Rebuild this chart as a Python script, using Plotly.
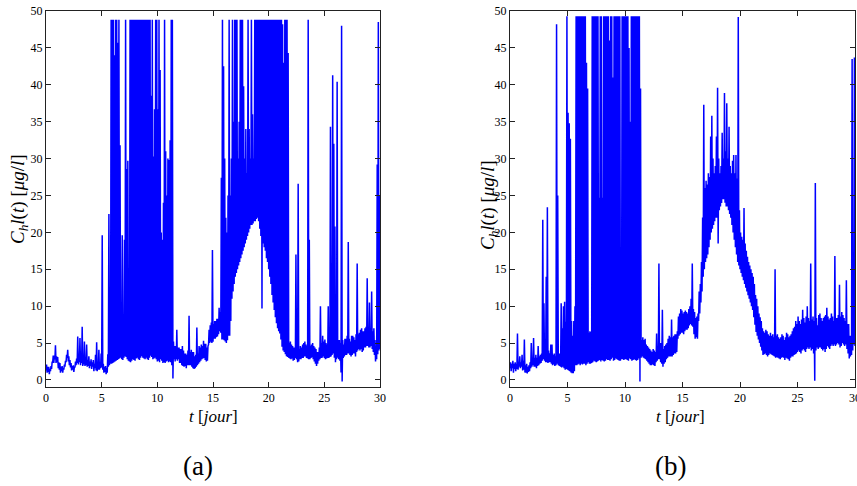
import numpy as np
import plotly.graph_objects as go

# Each series is given as a min/max envelope per 0.1-day bin (rows = days 0..29, then t=30)
bin_days = 0.1

# Panel (a): lower and upper values within each bin
chl_a_low = [
    1.3, 1.0, 1.1, 0.8, 1.2, 1.5, 2.4, 2.3, 2.8, 2.3,
    2.4, 1.6, 1.4, 1.0, 1.2, 1.0, 1.4, 1.8, 2.4, 3.0,
    2.5, 2.0, 1.7, 1.3, 1.4, 1.1, 1.7, 2.0, 2.3, 2.1,
    2.4, 2.0, 2.3, 1.9, 2.1, 1.9, 2.0, 1.8, 1.9, 1.6,
    1.9, 1.5, 1.8, 1.2, 1.6, 1.3, 1.2, 1.4, 1.4, 1.6,
    1.7, 1.4, 1.0, 1.1, 0.8, 1.0, 1.8, 2.0, 2.2, 2.2,
    2.3, 2.4, 2.5, 2.6, 2.7, 2.8, 2.9, 3.0, 2.8, 2.7,
    3.0, 3.2, 3.1, 2.8, 2.6, 2.5, 2.4, 2.6, 2.8, 2.7,
    2.6, 2.9, 3.0, 2.8, 2.7, 3.0, 3.2, 3.0, 2.9, 2.8,
    3.0, 2.8, 2.7, 3.0, 3.3, 3.1, 2.8, 2.9, 3.0, 2.8,
    2.5, 2.6, 2.4, 2.8, 2.6, 2.3, 2.4, 2.3, 2.5, 2.6,
    2.4, 2.5, 2.4, 2.0, 0.2, 2.8, 2.5, 2.8, 2.6, 2.8,
    2.3, 2.3, 2.0, 1.9, 1.8, 1.9, 1.6, 2.0, 2.0, 2.0,
    2.0, 1.8, 1.6, 1.5, 1.6, 1.8, 2.0, 2.2, 2.4, 2.6,
    2.8, 2.9, 3.0, 2.7, 2.5, 2.6, 4.8, 5.0, 5.2, 5.0,
    5.2, 5.6, 5.6, 5.8, 5.9, 6.2, 6.6, 6.4, 5.5, 5.5,
    5.4, 5.2, 5.0, 5.4, 6.0, 6.0, 8.0, 11.0, 12.0, 13.0,
    14.0, 14.5, 15.0, 15.5, 16.0, 16.5, 17.0, 17.5, 18.0, 18.5,
    19.0, 19.5, 20.0, 20.5, 21.0, 21.0, 21.2, 21.5, 21.5, 21.8,
    22.0, 21.5, 20.5, 19.5, 9.7, 18.5, 18.0, 17.5, 16.5, 16.0,
    15.0, 14.0, 13.0, 11.5, 10.5, 9.5, 8.5, 7.7, 7.0, 6.6,
    6.3, 5.5, 4.5, 4.0, 3.8, 3.5, 3.2, 3.1, 3.0, 2.9,
    2.8, 2.9, 2.6, 2.7, 3.0, 2.8, 2.4, 2.5, 2.8, 2.8,
    3.0, 3.0, 3.2, 3.2, 3.0, 2.9, 2.8, 2.8, 3.0, 3.1,
    2.8, 2.5, 2.2, 1.9, 2.2, 2.6, 2.8, 3.0, 3.0, 3.2,
    3.0, 2.8, 2.9, 3.0, 3.0, 3.1, 3.2, 3.4, 3.6, 3.0,
    2.4, 2.8, 3.0, 2.8, 2.6, 1.0, -0.2, 3.0, 3.2, 3.4,
    3.4, 3.6, 3.6, 3.4, 3.2, 3.4, 3.6, 3.6, 3.2, 3.8,
    4.0, 4.2, 4.0, 4.2, 3.8, 4.0, 4.4, 4.4, 4.6, 4.6,
    4.4, 4.4, 4.6, 4.2, 3.8, 3.4, 2.5, 2.8, 3.5, 4.0,
    4.2,
]
chl_a_high = [
    2.1, 1.8, 1.8, 1.5, 1.9, 2.4, 3.3, 3.3, 4.7, 3.2,
    3.1, 2.4, 2.3, 1.8, 1.9, 1.6, 2.1, 2.6, 3.4, 4.1,
    3.2, 2.7, 2.3, 1.9, 2.0, 1.8, 2.5, 2.9, 5.9, 3.2,
    5.7, 3.0, 7.2, 3.0, 5.2, 2.9, 4.8, 2.7, 3.2, 2.5,
    2.8, 2.4, 2.7, 2.2, 3.4, 5.1, 2.2, 4.1, 2.4, 3.6,
    19.6, 2.2, 1.8, 1.9, 1.6, 3.5, 22.5, 4.0, 48.8, 48.8,
    48.8, 44.0, 48.8, 48.8, 45.7, 48.8, 31.8, 9.0, 19.6, 8.0,
    19.0, 48.8, 28.6, 29.7, 8.5, 48.8, 48.8, 48.8, 48.8, 48.8,
    48.8, 48.8, 48.8, 48.8, 48.8, 48.8, 48.8, 48.8, 48.8, 48.8,
    48.8, 48.8, 48.8, 48.8, 38.5, 48.8, 30.3, 36.7, 48.8, 48.8,
    36.7, 48.8, 42.0, 20.0, 19.0, 24.0, 48.8, 31.0, 25.0, 30.0,
    29.8, 32.5, 48.8, 48.8, 5.2, 4.6, 4.6, 6.8, 4.4, 4.4,
    4.2, 4.2, 4.6, 4.0, 3.6, 3.6, 3.4, 4.0, 8.7, 3.8,
    4.1, 3.8, 3.8, 3.2, 3.4, 7.1, 3.6, 4.6, 4.4, 4.8,
    4.6, 5.3, 4.9, 4.9, 4.4, 4.6, 6.8, 7.4, 7.8, 17.6,
    7.6, 8.0, 8.0, 8.3, 8.3, 9.8, 9.2, 27.4, 48.8, 42.5,
    30.0, 22.0, 20.0, 25.0, 48.8, 25.0, 30.0, 48.8, 35.0, 48.8,
    48.8, 48.8, 30.0, 35.0, 48.8, 48.8, 48.8, 39.8, 30.0, 34.0,
    28.0, 48.8, 34.0, 30.0, 48.8, 36.0, 30.0, 48.8, 48.8, 48.8,
    48.8, 48.8, 48.8, 48.8, 48.8, 48.8, 48.8, 48.8, 48.8, 48.8,
    48.8, 48.8, 48.8, 48.8, 48.8, 48.8, 48.8, 48.8, 48.8, 48.8,
    48.8, 48.8, 48.2, 43.0, 48.8, 48.8, 48.8, 44.3, 5.0, 5.2,
    4.8, 4.6, 4.4, 4.4, 17.0, 4.6, 26.6, 4.2, 4.6, 4.4,
    4.8, 5.0, 5.2, 4.8, 4.6, 48.8, 19.0, 4.6, 4.8, 5.0,
    4.6, 4.4, 4.2, 3.8, 3.8, 4.4, 10.0, 5.0, 6.0, 5.2,
    5.5, 5.0, 4.8, 10.0, 5.2, 34.3, 5.4, 41.3, 32.0, 20.8,
    5.0, 40.4, 5.4, 5.4, 5.0, 48.0, 5.4, 4.8, 5.6, 5.6,
    6.0, 18.7, 5.6, 5.2, 6.0, 6.0, 5.8, 5.4, 6.2, 15.8,
    6.2, 6.4, 6.8, 7.0, 6.6, 6.6, 7.0, 7.2, 13.8, 7.0,
    10.5, 7.0, 12.0, 6.6, 7.0, 5.4, 4.6, 29.2, 48.5, 25.0,
    11.7,
]

# Panel (b): lower and upper values within each bin
chl_b_low = [
    1.6, 1.2, 1.6, 1.0, 1.5, 1.2, 1.5, 1.4, 1.8, 1.6,
    1.8, 1.3, 1.4, 1.0, 1.0, 0.9, 1.1, 1.2, 1.6, 1.8,
    2.0, 1.8, 1.8, 1.6, 1.9, 2.0, 2.2, 2.3, 2.6, 2.8,
    2.6, 2.4, 2.4, 2.3, 2.4, 2.4, 2.2, 2.0, 2.1, 1.9,
    2.0, 2.2, 2.0, 1.9, 1.8, 1.7, 1.8, 1.6, 1.4, 1.5,
    1.4, 1.3, 1.2, 1.0, 0.9, 0.9, 1.2, 2.0, 2.0, 2.1,
    2.2, 2.0, 2.2, 2.1, 2.2, 2.2, 2.0, 2.2, 2.4, 2.2,
    2.2, 2.3, 2.4, 2.6, 2.5, 2.4, 2.5, 2.6, 2.7, 2.5,
    2.7, 2.6, 2.5, 2.6, 2.8, 2.7, 2.7, 2.6, 2.8, 3.0,
    2.6, 2.7, 2.9, 2.8, 2.7, 2.6, 2.6, 2.8, 2.8, 2.7,
    2.8, 2.8, 2.7, 2.6, 2.9, 2.8, 2.6, 2.7, 2.8, 2.7,
    2.6, 2.7, 2.9, -0.2, 3.0, 3.2, 3.0, 2.9, 2.8, 2.6,
    2.4, 2.2, 2.0, 2.0, 2.1, 2.0, 1.9, 2.4, 2.6, 2.8,
    2.8, 2.4, 2.2, 1.8, 2.2, 2.4, 2.8, 3.0, 3.2, 3.2,
    3.2, 3.2, 3.4, 3.6, 3.6, 3.8, 5.6, 6.0, 6.2, 6.4,
    6.4, 6.2, 6.6, 6.8, 6.8, 7.0, 7.4, 7.6, 7.4, 7.2,
    6.2, 5.6, 5.8, 5.6, 8.0, 9.0, 10.5, 12.0, 14.0, 15.0,
    16.0, 16.5, 17.0, 18.0, 19.0, 20.0, 20.5, 21.0, 21.5, 22.0,
    22.0, 18.5, 23.0, 23.5, 24.0, 24.5, 24.5, 24.0, 23.5, 23.5,
    23.0, 22.5, 22.0, 21.0, 20.0, 19.0, 18.0, 17.0, 16.0, 15.5,
    15.0, 14.5, 14.0, 13.5, 13.0, 12.5, 12.0, 11.5, 11.0, 10.5,
    10.0, 9.5, 8.5, 7.5, 6.5, 6.0, 5.5, 5.0, 4.5, 4.0,
    3.4, 3.5, 3.6, 3.4, 3.2, 3.4, 3.6, 3.5, 3.4, 3.3,
    3.2, 3.0, 3.1, 3.0, 2.9, 2.8, 3.0, 3.1, 3.0, 2.7,
    3.0, 2.9, 2.8, 2.6, 3.0, 3.2, 3.2, 3.4, 3.5, 3.6,
    3.8, 4.0, 3.8, 3.6, 4.0, 4.2, 4.0, 3.8, 4.2, 4.4,
    4.2, 4.4, 4.0, 4.2, 3.6, -0.1, 4.0, 4.4, 4.2, 4.4,
    4.4, 4.2, 4.0, 4.2, 3.8, 4.2, 4.6, 4.4, 4.2, 4.6,
    4.8, 4.6, 4.8, 4.6, 4.8, 5.0, 4.8, 4.4, 4.6, 5.0,
    4.8, 4.6, 4.8, 4.2, 3.6, 2.9, 3.2, 3.4, 4.0, 4.8,
    4.6,
]
chl_b_high = [
    2.4, 2.2, 2.6, 2.2, 2.4, 2.2, 6.3, 2.4, 3.2, 2.4,
    3.4, 2.6, 5.5, 2.0, 2.2, 1.8, 2.0, 2.4, 5.0, 3.0,
    5.7, 3.0, 3.4, 3.0, 4.6, 3.2, 3.4, 3.6, 21.7, 10.4,
    4.2, 14.0, 23.4, 4.0, 3.6, 4.8, 4.8, 3.4, 3.6, 3.2,
    48.2, 25.0, 3.6, 3.6, 10.4, 7.0, 10.0, 10.6, 7.9, 49.3,
    36.2, 34.8, 32.7, 8.0, 6.0, 8.0, 10.0, 49.3, 49.3, 49.3,
    49.3, 49.3, 49.3, 49.3, 49.3, 49.3, 43.0, 39.5, 6.4, 6.6,
    6.5, 49.3, 49.3, 49.3, 49.3, 49.3, 49.3, 24.7, 49.3, 49.3,
    24.7, 49.3, 49.3, 49.3, 49.3, 49.3, 46.0, 49.3, 49.3, 41.0,
    49.3, 49.3, 49.3, 49.3, 49.3, 49.3, 12.4, 49.3, 49.3, 49.3,
    49.3, 49.3, 49.3, 45.0, 35.0, 49.3, 49.3, 49.3, 49.3, 49.3,
    49.3, 49.3, 49.3, 39.5, 5.4, 5.8, 5.4, 5.6, 4.8, 4.6,
    4.4, 4.2, 4.0, 3.8, 4.2, 4.0, 3.8, 6.3, 4.6, 15.8,
    5.0, 5.0, 9.5, 4.2, 4.6, 4.8, 5.0, 5.6, 6.0, 5.8,
    8.2, 5.8, 6.0, 6.2, 6.2, 6.6, 8.6, 9.0, 9.6, 9.4,
    9.0, 9.2, 9.4, 9.2, 9.0, 9.6, 10.0, 11.0, 15.8, 9.6,
    9.2, 8.4, 8.6, 9.0, 12.0, 13.0, 16.0, 22.0, 37.3, 26.0,
    27.0, 26.5, 28.0, 27.5, 33.0, 35.8, 30.0, 28.0, 29.0, 33.0,
    39.6, 30.0, 28.0, 29.0, 33.5, 30.0, 38.9, 31.0, 37.5, 30.0,
    34.3, 29.0, 28.0, 29.7, 30.5, 28.0, 30.5, 27.3, 49.2, 23.0,
    20.0, 19.4, 19.0, 23.3, 18.5, 17.5, 16.7, 16.0, 15.5, 15.0,
    14.5, 14.0, 13.0, 11.5, 11.0, 10.0, 9.0, 8.5, 8.0, 7.0,
    6.6, 6.4, 6.8, 6.6, 6.2, 6.0, 6.4, 6.0, 6.2, 5.8,
    15.0, 6.0, 6.2, 5.8, 5.6, 5.8, 6.2, 6.0, 5.4, 5.8,
    6.4, 6.2, 5.8, 6.0, 6.2, 6.6, 7.0, 7.2, 8.0, 7.6,
    8.6, 8.0, 7.6, 8.2, 9.5, 8.4, 7.8, 8.6, 10.0, 8.4,
    8.0, 15.8, 8.2, 8.6, 8.0, 26.7, 8.4, 7.4, 8.8, 9.0,
    8.4, 8.0, 8.4, 8.6, 8.8, 9.8, 8.6, 8.2, 8.4, 9.0,
    8.6, 8.0, 16.8, 8.4, 8.4, 8.8, 12.9, 8.6, 9.2, 8.8,
    8.4, 8.0, 13.5, 7.6, 7.6, 6.0, 6.0, 43.5, 8.0, 43.7,
    43.7,
]

x_ticks = [0, 5, 10, 15, 20, 25, 30]
y_ticks = [0, 5, 10, 15, 20, 25, 30, 35, 40, 45, 50]
panel_labels = ["(a)", "(b)"]
x_title = "<i>t</i> [<i>jour</i>]"
y_title = "<i>C</i><sub><i>h</i></sub><i>l</i>(<i>t</i>) [<i>μg</i>/<i>l</i>]"


def envelope_path(low, high):
    """Trace each bin from its low sample to its high sample (half a bin later)."""
    n = len(low)
    assert len(high) == n
    t0 = np.round(np.arange(n) * bin_days, 3)
    t = np.column_stack((t0, t0 + bin_days / 2)).ravel()
    y = np.column_stack((np.asarray(low), np.asarray(high))).ravel()
    return t, y


ta, ya = envelope_path(chl_a_low, chl_a_high)
tb, yb = envelope_path(chl_b_low, chl_b_high)

W, H = 857, 486
FONT = "'Liberation Serif', 'Times New Roman', 'DejaVu Serif', serif"
LINE = dict(color="#0000ff", width=1.5, simplify=False)

fig = go.Figure()
fig.add_trace(go.Scatter(x=ta, y=ya, mode="lines", line=LINE,
                         xaxis="x", yaxis="y", showlegend=False, hoverinfo="skip"))
fig.add_trace(go.Scatter(x=tb, y=yb, mode="lines", line=LINE,
                         xaxis="x2", yaxis="y2", showlegend=False, hoverinfo="skip"))


def px_x(p):
    return p / W


def px_y(p):
    return 1 - p / H


ydom = [px_y(387), px_y(11)]
axis_common = dict(showline=True, linecolor="#222", linewidth=1, mirror="ticks",
                   ticks="inside", ticklen=5, tickcolor="#222", showgrid=False,
                   zeroline=False, tickfont=dict(family=FONT, size=12, color="black"),
                   automargin=False, ticklabeloverflow="allow")

fig.update_layout(
    width=W, height=H, margin=dict(l=0, r=0, t=0, b=0),
    paper_bgcolor="white", plot_bgcolor="white",
    font=dict(family=FONT, color="black"),
    xaxis=dict(domain=[px_x(46), px_x(380)], range=[0, 30], tickvals=x_ticks,
               anchor="y", **axis_common),
    yaxis=dict(domain=ydom, range=[-0.95, 50], tickvals=y_ticks, anchor="x",
               **axis_common),
    xaxis2=dict(domain=[px_x(510), px_x(855)], range=[0, 30], tickvals=x_ticks,
                anchor="y2", **axis_common),
    yaxis2=dict(domain=ydom, range=[-0.95, 50], tickvals=y_ticks, anchor="x2",
                **axis_common),
)

ann = []
for cx in [213, 680]:
    ann.append(dict(x=px_x(cx), y=px_y(416), xref="paper", yref="paper",
                    xanchor="center", yanchor="middle",
                    text=x_title, showarrow=False,
                    font=dict(family=FONT, size=17, color="black")))
for cx, cy in [(19, 199), (489, 205)]:
    ann.append(dict(x=px_x(cx), y=px_y(cy), xref="paper", yref="paper",
                    xanchor="center", yanchor="middle",
                    text=y_title, showarrow=False, textangle=-90,
                    font=dict(family=FONT, size=19, color="black")))
for cx, lab in [(198, panel_labels[0]), (670, panel_labels[1])]:
    ann.append(dict(x=px_x(cx), y=px_y(466), xref="paper", yref="paper",
                    xanchor="center", yanchor="middle",
                    text=lab, showarrow=False,
                    font=dict(family=FONT, size=27, color="black")))
fig.update_layout(annotations=ann)

fig.write_html("out.html", config={"displayModeBar": False},
               post_script="document.body.style.margin='0px';document.body.style.overflow='hidden';")
